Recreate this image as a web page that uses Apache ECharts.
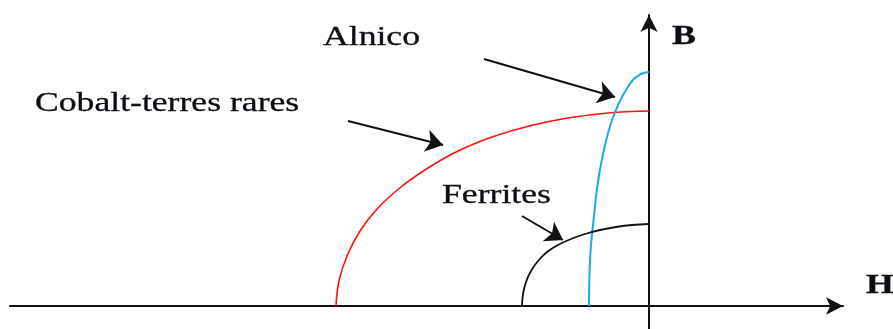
<!DOCTYPE html>
<html>
<head>
<meta charset="utf-8">
<script src="https://cdn.jsdelivr.net/npm/echarts@6/dist/echarts.min.js"></script>
<style>
  html, body { margin: 0; padding: 0; background: #fff; }
  #chart { width: 893px; height: 329px; }
</style>
</head>
<body>
<div id="chart"></div>
<script>
// demagnetization curves, points: [H, B]
const cobaltCurve = [[-313, 0], [-310, 25], [-302, 50], [-289, 75], [-271, 98], [-248, 119], [-221, 138], [-191, 155], [-157, 169], [-120, 180], [-81, 188], [-41, 193], [0, 195]]
const alnicoCurve = [[-60, 0], [-59.5, 31], [-58, 61], [-55, 90], [-52, 117], [-48, 142], [-43, 165], [-37, 186], [-30, 203], [-23, 216], [-16, 226], [-8, 232], [0, 234]]
const ferriteCurve = [[-127, 0], [-126, 12], [-123, 24], [-118, 35], [-111, 45], [-102, 54], [-91, 61], [-78, 67], [-64, 72], [-49, 76], [-33, 79], [-17, 81], [0, 82]]

// pointer arrows (from, tip)
const alnicoArrow = [[-165, 247], [-34, 209]]
const cobaltArrow = [[-301, 185], [-206, 161]]
const ferriteArrow = [[-127, 90], [-86, 66]]

const chart = echarts.init(document.getElementById('chart'))

// text is stretched sideways in the original figure
const txt = (text, x, y, bold) => ({
  type: 'text',
  x: x,
  y: y,
  scaleX: 1.32,
  style: {
    text: text,
    font: (bold ? 'bold ' : '') + '27px "Liberation Serif", "Times New Roman", serif',
    fill: '#0d0d14',
    stroke: '#0d0d14',
    lineWidth: 0.3,
    align: 'left',
    verticalAlign: 'middle'
  }
})

const curve = (data, color, width) => ({
  type: 'line',
  data: data,
  smooth: 0.4,
  showSymbol: false,
  silent: true,
  lineStyle: { color: color, width: width }
})

const arrow = (pts) => ({
  coords: pts
})

chart.setOption({
  animation: false,
  grid: { left: 10, right: 50, top: 15, bottom: 0 },
  xAxis: {
    type: 'value',
    min: -639,
    max: 194,
    axisLine: {
      onZero: true,
      symbol: ['none', 'arrow'],
      symbolSize: [13, 17],
      lineStyle: { color: '#111', width: 2 }
    },
    axisTick: { show: false },
    axisLabel: { show: false },
    splitLine: { show: false }
  },
  yAxis: {
    type: 'value',
    min: -23,
    max: 291,
    axisLine: {
      onZero: true,
      symbol: ['none', 'arrow'],
      symbolSize: [13, 17],
      lineStyle: { color: '#111', width: 2 }
    },
    axisTick: { show: false },
    axisLabel: { show: false },
    splitLine: { show: false }
  },
  series: [
    curve(cobaltCurve, '#ff1010', 1.6),
    curve(alnicoCurve, '#1ea8e6', 2),
    curve(ferriteCurve, '#111', 1.8),
    {
      type: 'lines',
      coordinateSystem: 'cartesian2d',
      symbol: ['none', 'arrow'],
      symbolSize: [12, 17],
      silent: true,
      lineStyle: { color: '#111', width: 2, opacity: 1 },
      data: [arrow(alnicoArrow), arrow(cobaltArrow), arrow(ferriteArrow)]
    }
  ],
  graphic: [
    txt('Alnico', 323, 38),
    txt('Cobalt-terres rares', 35, 104),
    txt('Ferrites', 442, 196),
    txt('B', 672, 37, true),
    txt('H', 866, 286, true)
  ]
})
</script>
</body>
</html>
